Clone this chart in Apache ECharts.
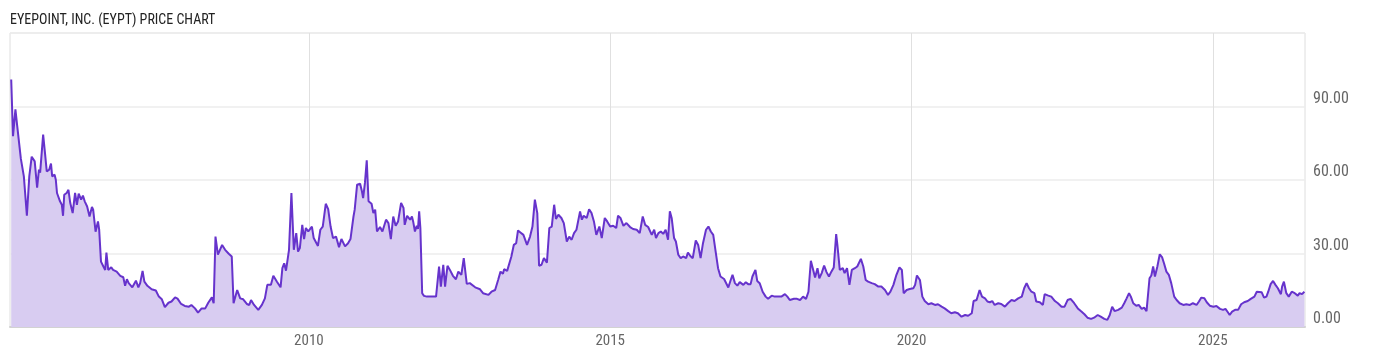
<!DOCTYPE html>
<html>
<head>
<meta charset="utf-8">
<script src="https://cdn.jsdelivr.net/npm/echarts@6/dist/echarts.min.js"></script>
<style>
html,body{margin:0;padding:0;background:#fff;}
#chart{width:1400px;height:357px;}
</style>
</head>
<body>
<div id="chart"></div>
<script>
// Dates as decimal years, prices in USD
const dates = [
2005.06,2005.09,2005.13,2005.16,2005.19,2005.22,2005.24,2005.27,2005.32,2005.36,2005.38,2005.40,2005.45,2005.49,2005.52,2005.54,2005.59,2005.62,2005.65,2005.69,
2005.72,2005.74,2005.78,2005.80,2005.82,2005.87,2005.90,2005.92,2005.94,2005.98,2006.01,2006.04,2006.08,2006.12,2006.15,2006.18,2006.22,2006.25,2006.28,2006.32,
2006.36,2006.40,2006.42,2006.46,2006.50,2006.52,2006.55,2006.59,2006.62,2006.64,2006.67,2006.72,2006.75,2006.81,2006.87,2006.92,2006.95,2006.98,2007.01,2007.07,
2007.13,2007.17,2007.20,2007.24,2007.27,2007.32,2007.39,2007.46,2007.51,2007.56,2007.61,2007.67,2007.72,2007.78,2007.82,2007.88,2007.94,2008.01,2008.05,2008.11,
2008.16,2008.22,2008.28,2008.33,2008.39,2008.42,2008.45,2008.49,2008.52,2008.56,2008.61,2008.64,2008.67,2008.72,2008.75,2008.81,2008.86,2008.91,2008.97,2009.01,
2009.04,2009.09,2009.16,2009.22,2009.27,2009.31,2009.37,2009.41,2009.47,2009.53,2009.56,2009.59,2009.62,2009.67,2009.71,2009.75,2009.79,2009.82,2009.85,2009.89,
2009.92,2009.95,2009.99,2010.05,2010.08,2010.15,2010.19,2010.23,2010.28,2010.32,2010.36,2010.40,2010.45,2010.50,2010.54,2010.60,2010.65,2010.69,2010.74,2010.76,
2010.80,2010.85,2010.88,2010.90,2010.93,2010.96,2010.99,2011.04,2011.07,2011.10,2011.13,2011.18,2011.22,2011.28,2011.32,2011.36,2011.40,2011.44,2011.48,2011.53,
2011.57,2011.59,2011.63,2011.68,2011.71,2011.73,2011.76,2011.79,2011.81,2011.83,2011.85,2011.88,2011.91,2011.96,2012.04,2012.11,2012.13,2012.16,2012.19,2012.23,
2012.26,2012.30,2012.34,2012.39,2012.44,2012.48,2012.53,2012.57,2012.62,2012.67,2012.76,2012.84,2012.89,2012.98,2013.03,2013.09,2013.14,2013.18,2013.22,2013.24,
2013.29,2013.32,2013.36,2013.40,2013.44,2013.47,2013.51,2013.56,2013.59,2013.62,2013.67,2013.71,2013.75,2013.79,2013.82,2013.86,2013.90,2013.95,2013.99,2014.03,
2014.07,2014.10,2014.14,2014.19,2014.23,2014.28,2014.32,2014.36,2014.40,2014.44,2014.50,2014.53,2014.56,2014.61,2014.65,2014.69,2014.73,2014.77,2014.82,2014.86,
2014.91,2014.95,2015.00,2015.05,2015.10,2015.13,2015.17,2015.22,2015.27,2015.33,2015.38,2015.44,2015.49,2015.54,2015.58,2015.63,2015.69,2015.73,2015.76,2015.80,
2015.84,2015.88,2015.92,2015.96,2015.99,2016.02,2016.06,2016.09,2016.13,2016.17,2016.21,2016.26,2016.29,2016.33,2016.37,2016.42,2016.46,2016.50,2016.54,2016.59,
2016.63,2016.67,2016.71,2016.75,2016.79,2016.83,2016.89,2016.92,2016.96,2017.00,2017.03,2017.07,2017.11,2017.15,2017.21,2017.25,2017.29,2017.33,2017.36,2017.41,
2017.44,2017.48,2017.53,2017.58,2017.62,2017.68,2017.73,2017.79,2017.84,2017.90,2017.94,2017.98,2018.05,2018.10,2018.15,2018.20,2018.25,2018.29,2018.33,2018.36,
2018.40,2018.44,2018.47,2018.51,2018.55,2018.59,2018.63,2018.67,2018.71,2018.75,2018.77,2018.81,2018.86,2018.89,2018.93,2018.97,2019.01,2019.06,2019.10,2019.16,
2019.20,2019.24,2019.28,2019.34,2019.39,2019.45,2019.50,2019.56,2019.61,2019.65,2019.70,2019.75,2019.80,2019.84,2019.87,2019.92,2019.97,2020.03,2020.06,2020.09,
2020.14,2020.18,2020.22,2020.28,2020.33,2020.39,2020.44,2020.50,2020.55,2020.61,2020.66,2020.72,2020.77,2020.83,2020.89,2020.94,2021.00,2021.03,2021.08,2021.13,
2021.17,2021.22,2021.26,2021.30,2021.34,2021.38,2021.44,2021.49,2021.55,2021.60,2021.66,2021.71,2021.77,2021.83,2021.87,2021.91,2021.95,2021.99,2022.04,2022.07,
2022.13,2022.16,2022.18,2022.21,2022.27,2022.32,2022.38,2022.43,2022.49,2022.54,2022.59,2022.64,2022.70,2022.76,2022.81,2022.87,2022.92,2022.98,2023.03,2023.09,
2023.14,2023.20,2023.25,2023.29,2023.33,2023.37,2023.43,2023.49,2023.53,2023.57,2023.61,2023.64,2023.68,2023.73,2023.77,2023.82,2023.86,2023.90,2023.93,2023.95,
2023.98,2024.01,2024.04,2024.08,2024.12,2024.16,2024.19,2024.23,2024.27,2024.31,2024.36,2024.40,2024.45,2024.51,2024.56,2024.62,2024.67,2024.73,2024.77,2024.81,
2024.86,2024.90,2024.95,2025.01,2025.06,2025.12,2025.17,2025.21,2025.25,2025.28,2025.32,2025.37,2025.42,2025.47,2025.52,2025.58,2025.63,2025.69,2025.73,2025.76,
2025.81,2025.85,2025.89,2025.92,2025.96,2026.00,2026.04,2026.08,2026.13,2026.15,2026.18,2026.22,2026.26,2026.31,2026.36,2026.41,2026.44,2026.48,2026.52
];
const prices = [
101,77.9,88.8,82,82,68.7,68.3,61.5,45.4,61.5,61,69.5,67.6,56.9,64.2,63,78.5,71.2,63.5,64.2,
66.7,61.5,62.2,60.1,54.7,51.3,49.9,45.4,54,54.7,56,50.6,46.5,54.7,49.9,54.4,52,53.6,51.3,49.2,
45.1,49,47.9,38.9,43.1,39.7,26.7,24.7,23.3,30.4,23.3,24.4,23.3,22.6,20.9,20.3,16.8,19.5,17.9,16.2,
18.9,16.2,17.9,22.9,18.5,16.8,15.4,14.9,12.4,11.3,8.1,9.9,10.4,12.1,11.6,9.4,8.6,8.3,9,7.6,
5.9,7.6,7.6,9.9,12.1,9.7,36.9,29.5,28.8,33.5,31.5,32.2,29.9,28.8,9.7,15.1,11.7,11.3,9.4,9,
11,9,7,9,11.7,17.2,17.2,20.9,18.5,16.2,24,26,23,31.5,54.7,31.5,38.3,30.8,32.2,41.7,
35.9,40.4,39,41,36.3,33.1,39.7,41,50.3,48.1,41,36.3,36.9,32.6,35.9,32.9,34.2,35.9,45.1,47.9,
58.1,58.5,55.4,52.6,58.8,68,51.3,50.3,46.5,47.9,39,40.8,39,43.8,42.4,35.9,45.1,41.3,43.1,50.6,
48.6,41.7,45.4,43.8,45.1,43.1,39,41.3,40,47.2,40.4,13.8,12.7,12.4,12.4,12.4,11.7,24.7,16.5,25.4,
16.5,25,23.3,20.9,19.5,22.6,21.3,28.1,17.6,17.9,16.2,15.4,13.8,13.1,14.4,15.1,19.2,22.6,21.7,23.6,
22.9,23.3,28.8,33.5,34.2,39.4,38.6,37.6,38.3,33.5,36.9,41,52,46.5,25,25.4,28.1,26.3,40.4,41,
49.9,44.1,45.8,44.5,42.4,34.9,36.9,35.6,38.3,39.7,47.2,43.8,45.4,44.5,48.1,46.5,43.1,37.6,41,36.3,
44.5,43.1,41,41.3,40.4,45.4,44.5,41.3,42.4,40.8,40,39.7,38.3,45.1,41.7,40.8,37.6,39.7,36.3,38.3,
39,38,39.7,35.6,47.2,44.5,36.3,34.9,29.5,28.1,28.8,28.1,30.4,29,28.1,35.3,33.5,28.1,34.2,39.7,
41,39,37.6,30.8,24,20.6,19.6,19.2,16.1,19.2,21.3,17.9,16.9,18.3,17.2,18.3,17.5,17.5,20.6,23.3,
18.8,17.9,14.4,12.4,11.5,12.8,12.4,12.4,12.4,13.4,12.4,11,11.5,11.5,11,12.4,11.5,14.4,27,26.7,
20.2,24,19.9,22,25.1,22.4,20.6,22.6,24.3,37.9,33.5,23.3,24,22,24,17.2,23.3,24,24.7,27.8,
24.7,19.2,18.5,17.9,17.5,16.5,16.5,15.1,13.1,14.4,17.2,21.3,24.3,23.3,13.8,15.1,15.5,15.8,17.2,21,
19.2,12.4,10.6,9.3,9.7,9,9.3,8.3,7.6,6.5,5.6,6,5.6,4.2,4.9,4.6,5.6,10.6,11,15.1,
12.4,11.7,10.4,10.1,10.6,9,9.7,9.4,8.3,9.7,11,10.6,11.7,12.4,15.8,17.9,15.8,14.4,13.8,10.4,
10.1,10.6,9,13.4,12.8,12.4,10.6,9.7,8.3,8.3,11,11.5,9.7,7.6,6.5,5.2,3.8,3.3,3.8,4.9,
4.2,3.3,2.9,4.9,8.3,6.5,7,7.9,9.7,11.7,13.8,12.4,9.7,8.7,9,7.4,7.9,6.5,7,19.9,
21,24.7,20.6,24.7,29.7,28.4,26,22.6,21.3,17.9,12.4,11,9.7,9,9.3,9,9.7,9,10.4,12,
11.7,10.1,8.7,8.3,8.6,7.4,7,7.4,6,4.9,6.3,7,7,9.3,10.1,10.6,11.5,12.4,14.4,13.8,
14.2,12,12.4,14.4,17.5,18.8,17.2,15.8,13.4,16.5,18.5,13.8,12.4,14.4,13.8,12.8,13.8,13.4,14.4
];
const yearTicks = [2010, 2015, 2020, 2025];
const priceTicks = [0, 30, 60, 90];
const titleText = 'EYEPOINT, INC. (EYPT) PRICE CHART';

const seriesData = dates.map((d, i) => [d, prices[i]]);
const fontFam = '"Roboto Condensed", "Liberation Sans Narrow", "DejaVu Sans Condensed", Roboto, sans-serif';

const chart = echarts.init(document.getElementById('chart'), null, {renderer: 'canvas'});
chart.setOption({
  animation: false,
  backgroundColor: '#fff',
  title: {
    text: titleText,
    left: 5, top: 8,
    textStyle: {fontFamily: fontFam, fontSize: 14, fontWeight: 'normal', color: '#222'}
  },
  grid: {
    left: 10, right: 95, top: 33, bottom: 30,
    show: true, borderColor: '#dedede', borderWidth: 1, backgroundColor: 'transparent'
  },
  xAxis: {
    type: 'value',
    min: 2005.04, max: 2026.53,
    axisLine: {show: true, onZero: false, lineStyle: {color: '#d2d2d2', width: 2}},
    axisTick: {show: false, customValues: yearTicks},
    axisLabel: {
      customValues: yearTicks,
      formatter: v => String(Math.round(v)),
      color: '#666', fontFamily: fontFam, fontSize: 15, margin: 7
    },
    splitLine: {show: true, lineStyle: {color: '#e0e0e0', width: 1}}
  },
  yAxis: {
    type: 'value',
    position: 'right',
    min: 0, max: 120, interval: 30,
    axisLine: {show: false},
    axisTick: {show: false},
    axisLabel: {
      formatter: v => priceTicks.indexOf(v) >= 0 ? v.toFixed(2) : '',
      color: '#666', fontFamily: fontFam, fontSize: 16,
      verticalAlign: 'bottom', margin: 8
    },
    splitLine: {show: true, lineStyle: {color: '#ececec', width: 1.5}}
  },
  series: [{
    type: 'line',
    data: seriesData,
    showSymbol: false,
    symbol: 'none',
    lineStyle: {color: '#6633cc', width: 2},
    areaStyle: {color: '#d8ccf1', opacity: 1, origin: 'start'},
    z: 3
  }]
});
</script>
</body>
</html>
